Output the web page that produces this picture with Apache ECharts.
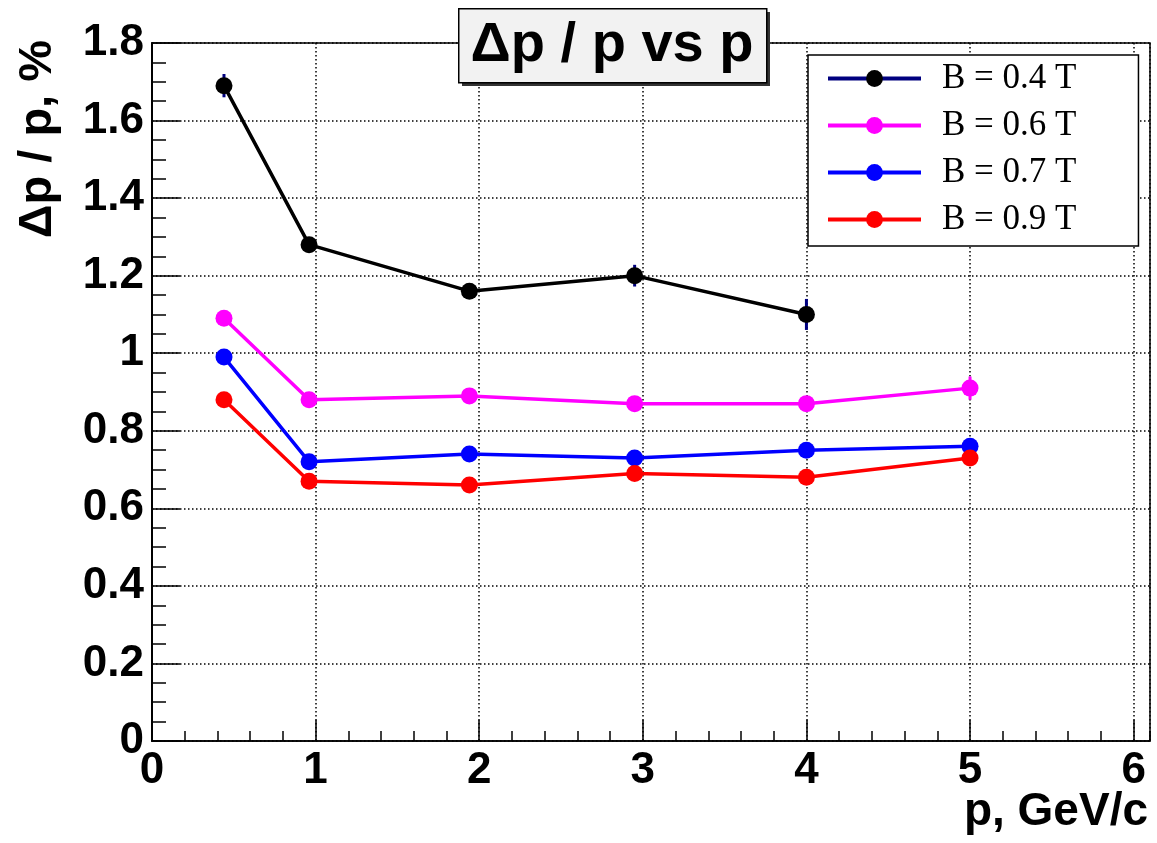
<!DOCTYPE html>
<html>
<head>
<meta charset="utf-8">
<script src="https://cdn.jsdelivr.net/npm/echarts@6/dist/echarts.min.js"></script>
<style>
html,body{margin:0;padding:0;background:#fff;}
#chart{width:1157px;height:843px;}
</style>
</head>
<body>
<div id="chart"></div>
<script>
// ---- data ----
const pValues = [0.44, 0.96, 1.94, 2.95, 4.0, 5.0];
const seriesNames = ['B = 0.4 T', 'B = 0.6 T', 'B = 0.7 T', 'B = 0.9 T'];
const resB04 = [1.69, 1.28, 1.16, 1.20, 1.10];
const resB06 = [1.09, 0.88, 0.89, 0.87, 0.87, 0.91];
const resB07 = [0.99, 0.72, 0.74, 0.73, 0.75, 0.76];
const resB09 = [0.88, 0.67, 0.66, 0.69, 0.68, 0.73];
const errB04 = [0.03, 0.012, 0.012, 0.028, 0.04];
const errB06 = [0.012, 0.01, 0.01, 0.01, 0.01, 0.03];
const errB07 = [0.012, 0.01, 0.01, 0.01, 0.01, 0.01];
const errB09 = [0.012, 0.01, 0.01, 0.01, 0.01, 0.01];
const xTickLabels = ['0', '1', '2', '3', '4', '5', '6'];
const yTickLabels = ['0', '0.2', '0.4', '0.6', '0.8', '1', '1.2', '1.4', '1.6', '1.8'];

const colors = ['#000000', '#ff00ff', '#0000ff', '#ff0000'];
const errColors = ['#00007f', '#ff00ff', '#0000ff', '#ff0000'];
const legendLineColors = ['#00007f', '#ff00ff', '#0000ff', '#ff0000'];
const allRes = [resB04, resB06, resB07, resB09];
const allErr = [errB04, errB06, errB07, errB09];

const chart = echarts.init(document.getElementById('chart'), null, {renderer: 'canvas'});

const FONT = 'Liberation Sans, Arial, Helvetica, sans-serif';
const SERIF = 'Liberation Serif, Times New Roman, serif';

const series = [];
allRes.forEach((vals, i) => {
  series.push({
    name: seriesNames[i],
    type: 'line',
    xAxisIndex: 0,
    data: vals.map((v, k) => [pValues[k], v]),
    symbol: 'circle',
    symbolSize: 17,
    showSymbol: true,
    lineStyle: {color: colors[i], width: 3.5},
    itemStyle: {color: colors[i]},
    z: 3,
    animation: false
  });
});
allRes.forEach((vals, i) => {
  series.push({
    name: seriesNames[i],
    type: 'custom',
    xAxisIndex: 0,
    data: vals.map((v, k) => [pValues[k], v, allErr[i][k]]),
    renderItem: function (params, api) {
      const x = api.value(0), y = api.value(1), e = api.value(2);
      const p1 = api.coord([x, y - e]);
      const p2 = api.coord([x, y + e]);
      return {
        type: 'line',
        shape: {x1: p1[0], y1: p1[1], x2: p2[0], y2: p2[1]},
        style: {stroke: errColors[i], lineWidth: 3}
      };
    },
    z: 2,
    animation: false,
    silent: true
  });
});

const option = {
  animation: false,
  backgroundColor: '#ffffff',
  grid: {
    left: 152, top: 43, right: 7, bottom: 102,
    show: true, borderColor: '#000', borderWidth: 1.5, backgroundColor: 'transparent'
  },
  legend: {
    data: seriesNames.map((n, i) => ({name: n, lineStyle: {color: legendLineColors[i], width: 4}, itemStyle: {color: colors[i]}})),
    orient: 'vertical',
    left: 808, top: 55,
    itemWidth: 93, itemHeight: 21, itemGap: 10,
    padding: [5, 62, 8, 18],
    backgroundColor: '#fff',
    borderColor: '#000', borderWidth: 1.5,
    textStyle: {fontFamily: SERIF, fontSize: 35, color: '#000', lineHeight: 37, padding: [0, 0, 0, 16]},
    selectedMode: false
  },
  xAxis: [{
    type: 'value', min: 0, max: 6.1, interval: 1,
    axisLine: {show: true, lineStyle: {color: '#000', width: 1.5}},
    axisTick: {show: true, inside: true, length: 21, lineStyle: {color: '#000', width: 1.5}},
    axisLabel: {
      show: true, margin: 8, color: '#000', fontFamily: FONT, fontWeight: 'bold', fontSize: 44,
      showMaxLabel: false,
      formatter: function (v) { const r = Math.round(v); return Math.abs(v - r) < 1e-6 ? xTickLabels[r] : ''; }
    },
    splitLine: {show: true, lineStyle: {color: '#000', width: 1.5, type: [1.5, 2.5]}},
    minorTick: {show: false}
  }, {
    type: 'value', min: 0, max: 6.1, interval: 0.2, position: 'bottom',
    axisLine: {show: false},
    axisTick: {show: true, inside: true, length: 10, lineStyle: {color: '#000', width: 1.5}},
    axisLabel: {show: false},
    splitLine: {show: false}
  }],
  yAxis: {
    type: 'value', min: 0, max: 1.8, interval: 0.2,
    axisLine: {show: true, lineStyle: {color: '#000', width: 2}},
    axisTick: {show: true, inside: true, length: 28, lineStyle: {color: '#000', width: 1.5}},
    minorTick: {show: true, splitNumber: 4, length: 14, lineStyle: {color: '#000', width: 1.5}},
    axisLabel: {
      margin: 8, color: '#000', fontFamily: FONT, fontWeight: 'bold', fontSize: 44,
      formatter: function (v) { const k = Math.round(v / 0.2); return yTickLabels[k]; }
    },
    splitLine: {show: true, lineStyle: {color: '#000', width: 1.5, type: [1.5, 2.5]}}
  },
  graphic: [
    // title box shadow
    {type: 'rect', left: 462, top: 12, shape: {width: 308, height: 74}, style: {fill: '#333'}, z: 100},
    {type: 'rect', left: 458, top: 8, shape: {width: 308, height: 74}, style: {fill: '#f2f2f2', stroke: '#000', lineWidth: 1.5}, z: 101},
    {type: 'text', x: 612, y: 46, style: {text: 'Δp / p vs p', font: 'bold 56px ' + FONT, fill: '#000', align: 'center', verticalAlign: 'middle'}, z: 102},
    // axis titles
    {type: 'text', x: 38, y: 40, rotation: Math.PI / 2, style: {text: 'Δp / p, %', font: 'bold 47px ' + FONT, fill: '#000', align: 'right', verticalAlign: 'middle'}, z: 50},
    {type: 'text', x: 1148, y: 812, style: {text: 'p, GeV/c', font: 'bold 46px ' + FONT, fill: '#000', align: 'right', verticalAlign: 'middle'}, z: 50}
  ],
  series: series
};
chart.setOption(option);
</script>
</body>
</html>
